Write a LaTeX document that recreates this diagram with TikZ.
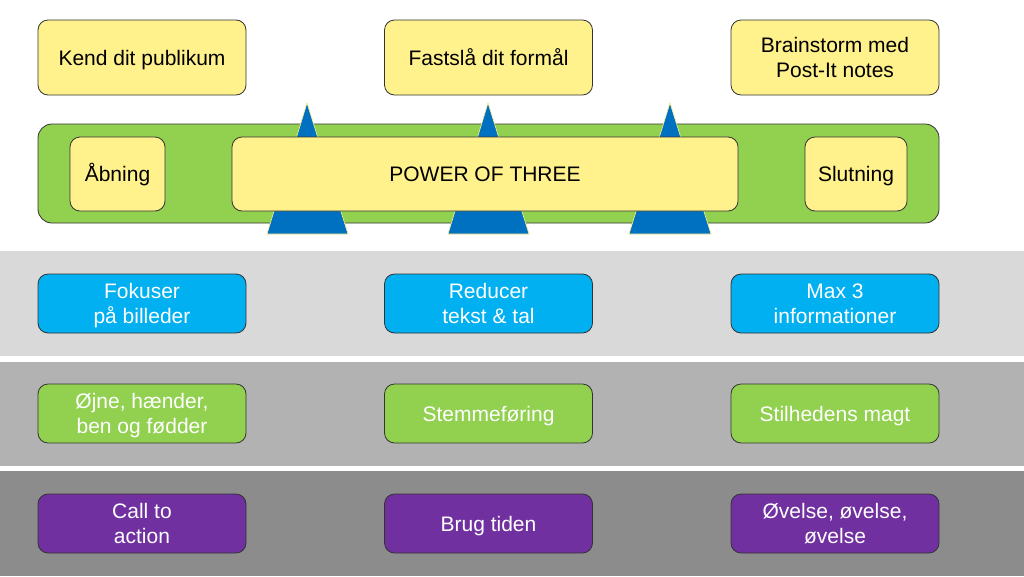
\documentclass[tikz,border=0pt]{standalone}
\usepackage{fontspec}
\setmainfont{Liberation Sans}
\definecolor{ylw}{HTML}{FFF18B}
\definecolor{grn}{HTML}{92D050}
\definecolor{cyn}{HTML}{00B0F0}
\definecolor{prp}{HTML}{7030A0}
\definecolor{blu}{HTML}{0070C0}
\definecolor{bandA}{HTML}{D9D9D9}
\definecolor{bandB}{HTML}{B2B2B2}
\definecolor{bandC}{HTML}{8C8C8C}
\definecolor{edge}{HTML}{333333}
\begin{document}
\begin{tikzpicture}[x=1pt,y=-1pt,
  box/.style={draw=edge, line width=0.8pt, rounded corners=10pt, align=center,
    font=\fontsize{21}{25}\selectfont, inner sep=0pt},
  one/.style={text height=19pt, text depth=4pt},
  two/.style={text height=44pt, text depth=5pt},
  topbox/.style={box, fill=ylw, text=black, minimum width=208pt, minimum height=75pt},
  rowbox/.style={box, text=white, minimum width=208pt, minimum height=59pt},
  tri/.style={fill=blu, draw=ylw, line width=0.6pt}]
\useasboundingbox (0,0) rectangle (1024,576);
\fill[white] (0,0) rectangle (1024,576);
\fill[bandA] (0,251) rectangle (1024,356);
\fill[bandB] (0,362) rectangle (1024,466);
\fill[bandC] (0,471) rectangle (1024,576);

\node[topbox, one] (kend) at (142,57.5) {Kend dit publikum};
\node[topbox, one] (formaal) at (488.5,57.5) {Fastslå dit formål};
\node[topbox, two] (brain) at (835,57.5) {Brainstorm med\\Post-It notes};

\node[draw=edge, line width=0.8pt, fill=grn, rounded corners=14pt,
  minimum width=901pt, minimum height=99pt, inner sep=0pt] (frame) at (488.5,173.5) {};

\draw[tri] (307,103) -- (348,234) -- (267,234) -- cycle;
\draw[tri] (488,103) -- (529,234) -- (448,234) -- cycle;
\draw[tri] (670,103) -- (711,234) -- (629,234) -- cycle;

\node[box, one, fill=ylw, minimum width=95pt, minimum height=74pt] (aabning) at (117.5,174) {Åbning};
\node[box, one, fill=ylw, minimum width=506pt, minimum height=74pt] (power) at (485,174) {POWER OF THREE};
\node[box, one, fill=ylw, minimum width=102pt, minimum height=74pt] (slut) at (856,174) {Slutning};

\node[rowbox, two, fill=cyn] (fok) at (142,303.5) {Fokuser\\på billeder};
\node[rowbox, two, fill=cyn] (red) at (488.5,303.5) {Reducer\\tekst \& tal};
\node[rowbox, two, fill=cyn] (max) at (835,303.5) {Max 3\\informationer};

\node[rowbox, two, fill=grn] (oejne) at (142,413.5) {Øjne, hænder,\\ben og fødder};
\node[rowbox, one, fill=grn] (stemme) at (488.5,413.5) {Stemmeføring};
\node[rowbox, one, fill=grn] (stil) at (835,413.5) {Stilhedens magt};

\node[rowbox, two, fill=prp] (call) at (142,523.5) {Call to\\action};
\node[rowbox, one, fill=prp] (brug) at (488.5,523.5) {Brug tiden};
\node[rowbox, two, fill=prp] (oev) at (835,523.5) {Øvelse, øvelse,\\øvelse};
\end{tikzpicture}
\end{document}
